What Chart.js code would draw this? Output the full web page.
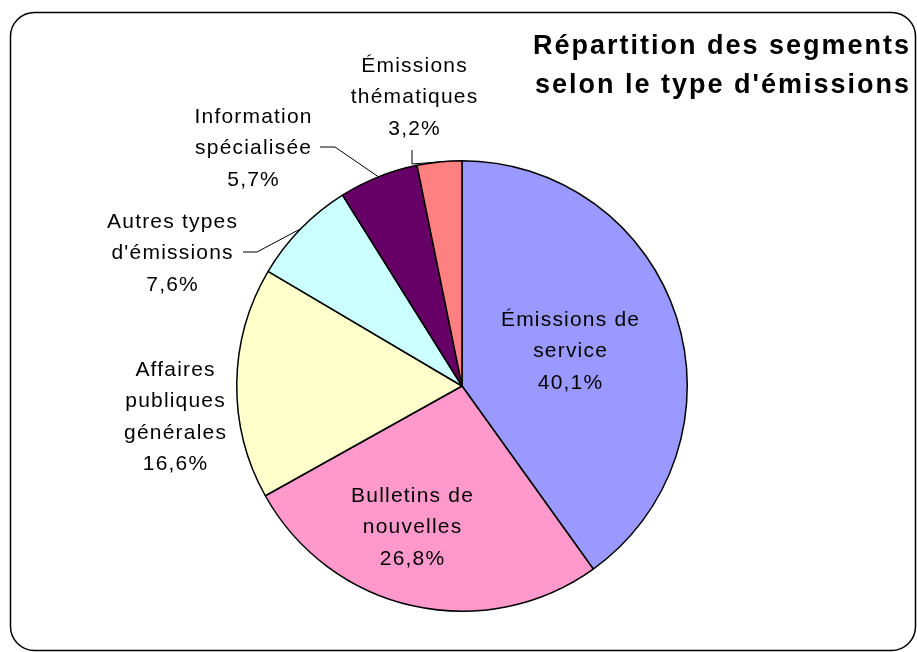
<!DOCTYPE html>
<html>
<head>
<meta charset="utf-8">
<script src="https://cdn.jsdelivr.net/npm/chart.js@4.4.1/dist/chart.umd.min.js"></script>
<style>
html,body{margin:0;padding:0;background:#fff;}
#wrap{width:917px;height:652px;position:relative;}
</style>
</head>
<body>
<div id="wrap"><canvas id="c" width="917" height="652"></canvas></div>
<script>
// ---- Data ----
const titleLines = ["Répartition des segments", "selon le type d'émissions"];
const categories = [
  ["Émissions de", "service"],
  ["Bulletins de", "nouvelles"],
  ["Affaires", "publiques", "générales"],
  ["Autres types", "d'émissions"],
  ["Information", "spécialisée"],
  ["Émissions", "thématiques"]
];
const values = [40.1, 26.8, 16.6, 7.6, 5.7, 3.2];
const colors = ["#9999FF", "#FF99CC", "#FFFFCC", "#CCFFFF", "#660066", "#FF8080"];

// ---- Label layout (offsets from pie centre, px) ----
const labelLayout = [
  {dx: 108, dy: -36},
  {dx: -50, dy: 140},
  {dx: -287, dy: 30},
  {dx: -290, dy: -134, leader: [[-219, -134], [-205, -134]]},
  {dx: -209, dy: -239, leader: [[-142, -239], [-127, -239]]},
  {dx: -48, dy: -290, leader: [[-50, -236], [-50, -222]]}
];

const fmt = v => v.toFixed(1).replace('.', ',') + '%';

const framePlugin = {
  id: 'frame',
  beforeDraw(chart) {
    const ctx = chart.ctx;
    ctx.save();
    ctx.fillStyle = '#fff';
    ctx.fillRect(0, 0, chart.width, chart.height);
    const x0 = 10.5, y0 = 12.5, x1 = 915.5, y1 = 650.5, r = 24;
    ctx.beginPath();
    ctx.moveTo(x0 + r, y0);
    ctx.lineTo(x1 - r, y0);
    ctx.arcTo(x1, y0, x1, y0 + r, r);
    ctx.lineTo(x1, y1 - r);
    ctx.arcTo(x1, y1, x1 - r, y1, r);
    ctx.lineTo(x0 + r, y1);
    ctx.arcTo(x0, y1, x0, y1 - r, r);
    ctx.lineTo(x0, y0 + r);
    ctx.arcTo(x0, y0, x0 + r, y0, r);
    ctx.closePath();
    ctx.lineWidth = 1.5;
    ctx.strokeStyle = '#000';
    ctx.stroke();
    ctx.restore();
  }
};

const labelPlugin = {
  id: 'labels',
  afterDraw(chart) {
    const ctx = chart.ctx;
    const meta = chart.getDatasetMeta(0);
    ctx.save();
    // leader lines
    meta.data.forEach((arc, i) => {
      const p = arc.getProps(['x', 'y', 'startAngle', 'endAngle', 'outerRadius'], true);
      const L = labelLayout[i];
      if (L.leader) {
        const mid = (p.startAngle + p.endAngle) / 2;
        const ex = p.x + Math.cos(mid) * p.outerRadius;
        const ey = p.y + Math.sin(mid) * p.outerRadius;
        ctx.beginPath();
        ctx.moveTo(p.x + L.leader[0][0], p.y + L.leader[0][1]);
        ctx.lineTo(p.x + L.leader[1][0], p.y + L.leader[1][1]);
        ctx.lineTo(ex, ey);
        ctx.strokeStyle = '#000';
        ctx.lineWidth = 1;
        ctx.stroke();
      }
    });
    // text
    ctx.fillStyle = '#000';
    ctx.font = '21px "Liberation Sans", Arial, sans-serif';
    ctx.textAlign = 'center';
    ctx.textBaseline = 'alphabetic';
    try { ctx.letterSpacing = '1.2px'; } catch (e) {}
    const lh = 31.5;
    meta.data.forEach((arc, i) => {
      const p = arc.getProps(['x', 'y'], true);
      const L = labelLayout[i];
      const lines = categories[i].concat([fmt(values[i])]);
      const n = lines.length;
      lines.forEach((t, k) => {
        const by = p.y + L.dy + (k - (n - 1) / 2) * lh + 7;
        ctx.fillText(t, p.x + L.dx + 0.6, by);
      });
    });
    // title
    ctx.font = 'bold 27px "Liberation Sans", Arial, sans-serif';
    try { ctx.letterSpacing = '2px'; } catch (e) {}
    ctx.textAlign = 'right';
    ctx.fillText(titleLines[0], 911, 54);
    ctx.fillText(titleLines[1], 911, 93);
    ctx.restore();
  }
};

new Chart(document.getElementById('c'), {
  type: 'pie',
  data: {
    labels: categories.map(c => c.join(' ')),
    datasets: [{
      data: values,
      backgroundColor: colors,
      borderColor: '#000',
      borderWidth: 1.5,
      borderAlign: 'center'
    }]
  },
  options: {
    responsive: false,
    animation: false,
    layout: { padding: { left: 236, right: 229, top: 160, bottom: 40 } },
    plugins: {
      legend: { display: false },
      tooltip: { enabled: false },
      title: { display: false }
    }
  },
  plugins: [framePlugin, labelPlugin]
});
</script>
</body>
</html>
